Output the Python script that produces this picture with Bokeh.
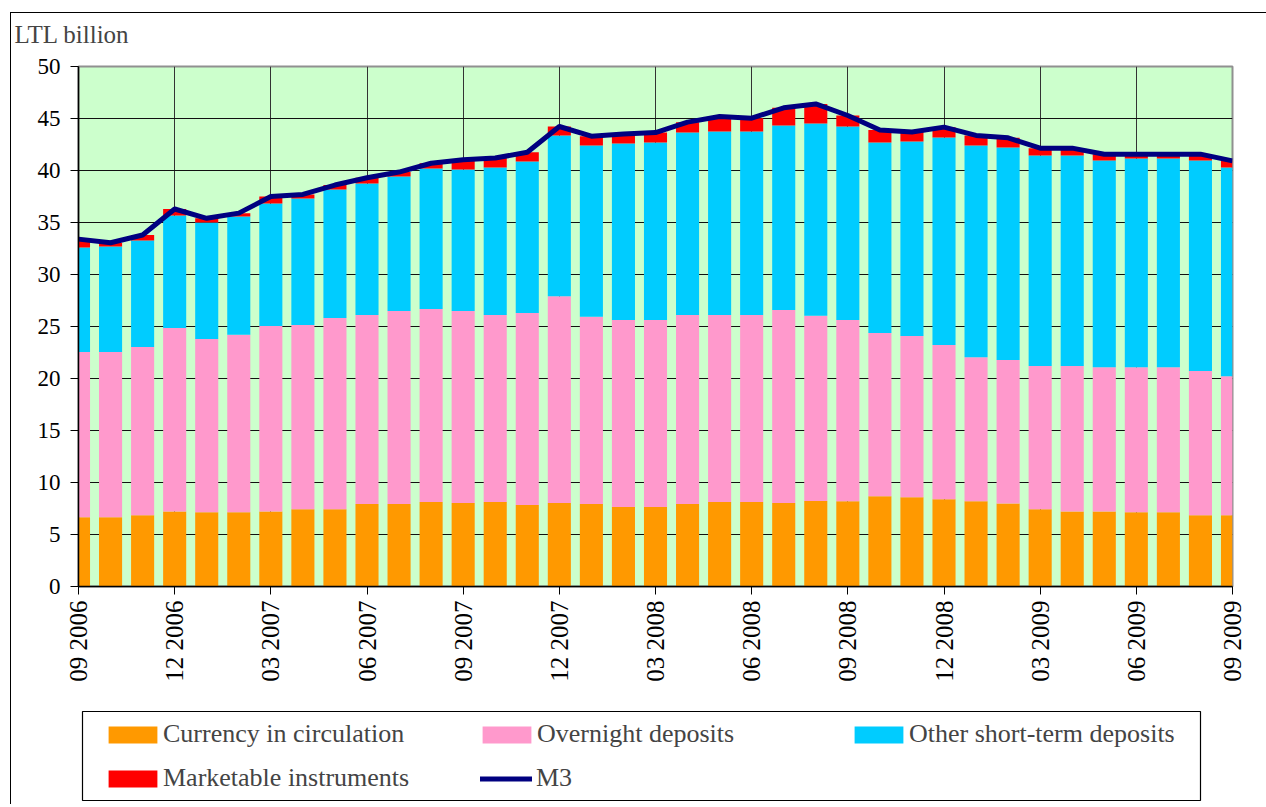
from math import pi
from bokeh.plotting import figure
from bokeh.layouts import column
from bokeh.models import (Range1d, FixedTicker, Legend, LegendItem, BoxAnnotation,
                          ColumnDataSource)
from bokeh.embed import file_html
from bokeh.resources import INLINE

# LTL billion, monthly 09 2006 .. 09 2009
currency = [6.65, 6.65, 6.84, 7.22, 7.13, 7.13, 7.22, 7.42, 7.42, 7.93, 7.93, 8.12,
            8.03, 8.12, 7.83, 8.03, 7.93, 7.64, 7.64, 7.93, 8.12, 8.12, 8.03, 8.22,
            8.19, 8.67, 8.57, 8.38, 8.19, 7.99, 7.42, 7.22, 7.22, 7.13, 7.13, 6.84, 6.84]
overnight = [15.89, 15.89, 16.18, 17.63, 16.66, 17.07, 17.82, 17.72, 18.39, 18.17, 18.55, 18.56,
             18.45, 17.98, 18.46, 19.87, 18.01, 17.98, 17.98, 18.17, 17.98, 17.98, 18.55, 17.81,
             17.43, 15.70, 15.51, 14.83, 13.86, 13.78, 13.77, 13.97, 13.87, 13.96, 13.96, 13.87, 13.38]
other_short = [10.06, 10.15, 10.25, 10.82, 11.21, 11.38, 11.79, 12.17, 12.36, 12.65, 12.94, 13.51,
               13.62, 14.19, 14.58, 15.47, 16.46, 16.98, 17.07, 17.55, 17.65, 17.65, 17.75, 18.49,
               18.61, 18.32, 18.71, 19.96, 20.35, 20.44, 20.25, 20.25, 19.87, 20.06, 20.06, 20.25, 20.07]
marketable = [0.80, 0.36, 0.53, 0.63, 0.40, 0.32, 0.67, 0.39, 0.43, 0.55, 0.43, 0.51,
              0.93, 0.91, 0.89, 0.86, 0.90, 0.90, 0.96, 1.00, 1.45, 1.28, 1.70, 1.88,
              1.06, 1.21, 0.91, 1.00, 0.97, 0.93, 0.71, 0.71, 0.61, 0.42, 0.42, 0.61, 0.64]
m3 = [33.40, 33.05, 33.80, 36.30, 35.40, 35.90, 37.50, 37.70, 38.60, 39.30, 39.85, 40.70,
      41.03, 41.20, 41.76, 44.23, 43.30, 43.50, 43.65, 44.65, 45.20, 45.03, 46.03, 46.40,
      45.29, 43.90, 43.70, 44.17, 43.37, 43.14, 42.15, 42.15, 41.57, 41.57, 41.57, 41.57, 40.93]

tick_labels = ["09 2006", "12 2006", "03 2007", "06 2007", "09 2007", "12 2007", "03 2008",
               "06 2008", "09 2008", "12 2008", "03 2009", "06 2009", "09 2009"]
tick_positions = [3 * i for i in range(len(tick_labels))]

series_names = ["Currency in circulation", "Overnight deposits",
                "Other short-term deposits", "Marketable instruments"]
series_colors = ["#FF9900", "#FF99CC", "#00CCFF", "#FF0000"]
m3_color = "#000080"

n = len(currency)
src = ColumnDataSource(dict(x=list(range(n)), currency=currency, overnight=overnight,
                            other=other_short, marketable=marketable, m3=m3))

FONT = "Liberation Serif"
W = 1256

# ---------------- chart ----------------
p = figure(width=W, height=700, output_backend="svg", toolbar_location=None,
           x_range=Range1d(0, n - 1), y_range=Range1d(0, 50),
           min_border_left=68, min_border_right=34, min_border_top=66,
           min_border_bottom=114)
p.background_fill_color = "#CCFFCC"
p.border_fill_alpha = 0
p.outline_line_color = "#909090"
p.outline_line_width = 2

bars = p.vbar_stack(["currency", "overnight", "other", "marketable"], x="x", width=0.72,
                    color=series_colors, line_color=None, source=src)
p.line(x="x", y="m3", source=src, line_color=m3_color, line_width=5, line_join="round")

p.xaxis.ticker = FixedTicker(ticks=tick_positions)
p.xaxis.major_label_overrides = {t: l for t, l in zip(tick_positions, tick_labels)}
p.xaxis.major_label_orientation = pi / 2
p.yaxis.ticker = FixedTicker(ticks=list(range(0, 51, 5)))
for ax in (p.xaxis, p.yaxis):
    ax.major_tick_out = 8
    ax.major_tick_in = 0
    ax.minor_tick_line_color = None
    ax.axis_line_color = "black"
    ax.axis_line_width = 1.5
    ax.major_tick_line_color = "black"
    ax.major_label_text_font = FONT
    ax.major_label_text_color = "black"
p.yaxis.major_label_text_font_size = "23px"
p.yaxis.major_label_standoff = 10
p.xaxis.major_label_text_font_size = "25px"
p.xaxis.major_label_standoff = 6

p.xgrid.ticker = FixedTicker(ticks=tick_positions)
p.xgrid.grid_line_color = "#333333"
p.ygrid.grid_line_color = "#111111"

p.title.text = "LTL billion"
p.title.align = "left"
p.title.vertical_align = "top"
p.title.offset = -64
p.title.text_font = FONT
p.title.text_font_size = "25px"
p.title.text_font_style = "normal"
p.title.standoff = 33

# ---------------- legend panel (frame aligned with the chart frame) ----------------
H2 = 104
q = figure(width=W, height=H2, output_backend="svg", toolbar_location=None,
           x_range=Range1d(78, 1232), y_range=Range1d(H2, 0),
           min_border=0, x_axis_type=None, y_axis_type=None)
q.outline_line_color = None
q.border_fill_alpha = 0
q.background_fill_alpha = 0
q.xgrid.visible = False
q.ygrid.visible = False

# zero-size proxy glyphs carrying the legend styles
proxies = [q.vbar(x=[0], top=[0], bottom=[0], width=0, color=c, line_color=None)
           for c in series_colors]
proxies.append(q.line(x=[0], y=[0], line_color=m3_color, line_width=5, line_cap="round"))
labels = series_names + ["M3"]
items = [LegendItem(label=l, renderers=[r]) for l, r in zip(labels, proxies)]


def make_legend(item, loc, gw=61, gh=21, standoff=0):
    return Legend(items=[item], location=loc, orientation="vertical",
                  border_line_alpha=0, background_fill_alpha=0, padding=0, margin=0,
                  spacing=0, glyph_width=gw, glyph_height=gh, label_standoff=standoff,
                  label_text_font=FONT, label_text_font_size="26px")


q.add_layout(make_legend(items[0], (24, 55)), "center")
q.add_layout(make_legend(items[1], (398, 55)), "center")
q.add_layout(make_legend(items[2], (770, 55)), "center")
q.add_layout(make_legend(items[3], (24, 11)), "center")
q.add_layout(make_legend(items[4], (402, 11), gw=52, standoff=4), "center")
q.add_layout(BoxAnnotation(left=82, right=1200, top=11, bottom=100,
                           fill_alpha=0, line_color="black", line_width=1.2, line_alpha=1))

# outer frame of the figure: thin lines at the left and top, drawn as CSS backgrounds
layout = column(p, q, spacing=0, margin=(0, 0, 0, 10),
                styles={"background-image": "linear-gradient(#000, #000), linear-gradient(#000, #000)",
                        "background-size": "100% 1px, 1px 100%",
                        "background-position": "0 12px, 0 12px",
                        "background-repeat": "no-repeat"})

open("out.html", "w").write(file_html(layout, INLINE))
